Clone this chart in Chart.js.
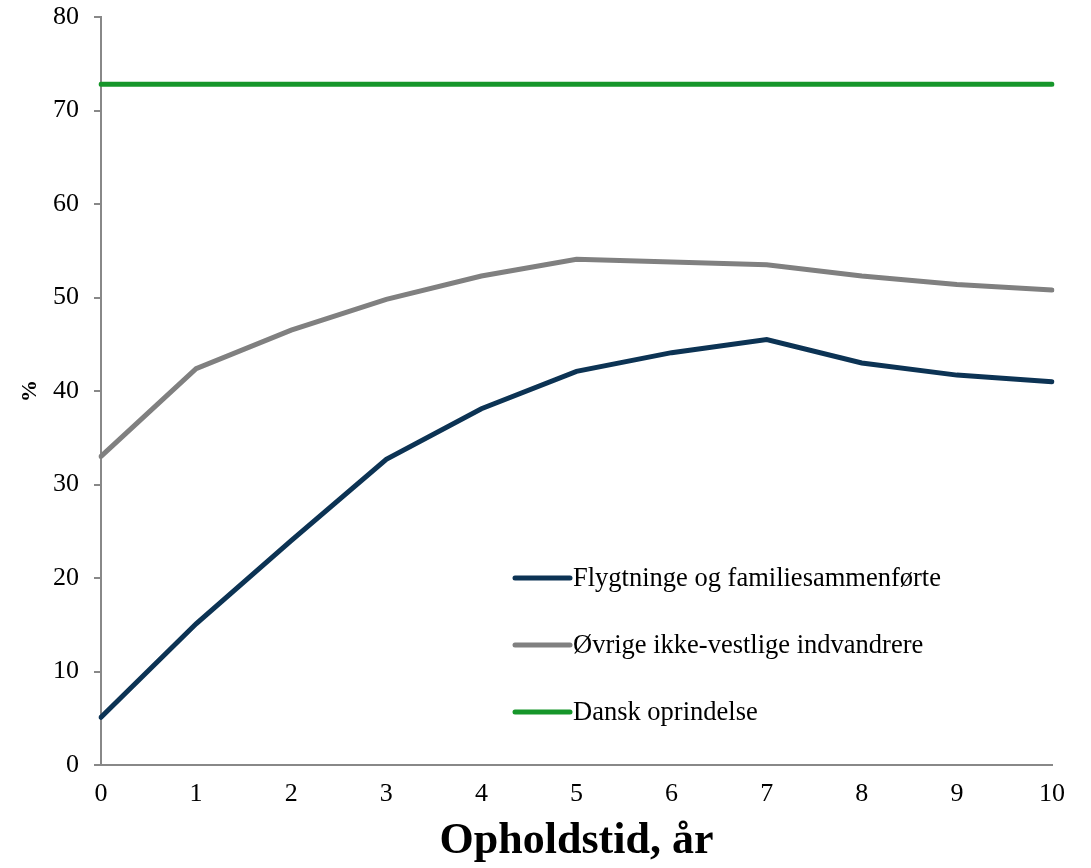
<!DOCTYPE html>
<html>
<head>
<meta charset="utf-8">
<script src="https://cdn.jsdelivr.net/npm/chart.js@4"></script>
<style>
  html, body { margin: 0; padding: 0; background: #fff; }
  #wrap { width: 1091px; height: 868px; }
</style>
</head>
<body>
<div id="wrap"><canvas id="chart" width="1091" height="868"></canvas></div>
<script>
// år i Danmark (x-akse)
const years = ['0', '1', '2', '3', '4', '5', '6', '7', '8', '9', '10'];

// andel i %
const flygtninge = [5.1, 15.1, 24.0, 32.7, 38.1, 42.1, 44.1, 45.5, 43.0, 41.7, 41.0];
const oevrige = [33.0, 42.4, 46.5, 49.8, 52.3, 54.1, 53.8, 53.5, 52.3, 51.4, 50.8];
const dansk = [72.8, 72.8, 72.8, 72.8, 72.8, 72.8, 72.8, 72.8, 72.8, 72.8, 72.8];

const seriesNames = ['Flygtninge og familiesammenførte', 'Øvrige ikke-vestlige indvandrere', 'Dansk oprindelse'];
const seriesColors = ['#0c3354', '#808080', '#16962a'];

const serif = "'Liberation Serif', 'Times New Roman', serif";

// legenden ligger inde i plotområdet, så den tegnes selv
const innerLegend = {
  id: 'innerLegend',
  afterDraw(chart) {
    const ctx = chart.ctx;
    const x0 = 515, x1 = 570;
    const rows = [578, 645, 712];
    ctx.save();
    ctx.font = '26.5px ' + serif;
    ctx.textBaseline = 'middle';
    ctx.lineCap = 'round';
    chart.data.datasets.forEach((ds, i) => {
      ctx.strokeStyle = ds.borderColor;
      ctx.lineWidth = 5;
      ctx.beginPath();
      ctx.moveTo(x0, rows[i]);
      ctx.lineTo(x1, rows[i]);
      ctx.stroke();
      ctx.fillStyle = '#000';
      ctx.fillText(ds.label, x1 + 3, rows[i] + 1);
    });
    ctx.restore();
  }
};

const ctx = document.getElementById('chart').getContext('2d');
new Chart(ctx, {
  type: 'line',
  data: {
    labels: years,
    datasets: [
      { label: seriesNames[0], data: flygtninge, borderColor: seriesColors[0] },
      { label: seriesNames[1], data: oevrige, borderColor: seriesColors[1] },
      { label: seriesNames[2], data: dansk, borderColor: seriesColors[2] }
    ].map(d => Object.assign(d, {
      borderWidth: 5,
      pointRadius: 0,
      tension: 0,
      fill: false,
      borderCapStyle: 'round'
    }))
  },
  options: {
    responsive: false,
    animation: false,
    layout: { padding: { top: 17, right: 39, bottom: 0, left: 0 } },
    plugins: {
      legend: { display: false },
      tooltip: { enabled: false }
    },
    scales: {
      x: {
        offset: false,
        grid: { display: false, drawTicks: false },
        border: { color: '#888', width: 2 },
        ticks: { color: '#000', font: { family: serif, size: 26 }, padding: 14, maxRotation: 0 },
        title: {
          display: true,
          text: 'Opholdstid, år',
          color: '#000',
          font: { family: serif, size: 44, weight: 'bold' },
          padding: { top: 0, bottom: 0 }
        },
        afterFit: s => {
          s.height = 103;
          s.paddingLeft = 0;
          s.paddingRight = 0;
        }
      },
      y: {
        min: 0,
        max: 80,
        ticks: { stepSize: 10, color: '#000', font: { family: serif, size: 26 }, padding: 15 },
        grid: { drawOnChartArea: false, drawTicks: true, tickLength: 7, color: '#888', lineWidth: 2 },
        border: { color: '#888', width: 2 },
        title: {
          display: true,
          text: '%',
          color: '#000',
          font: { family: serif, size: 22, weight: 'bold' },
          padding: { top: 17, bottom: 0 }
        },
        afterFit: s => {
          s.width = 101;
          s.paddingTop = 0;
          s.paddingBottom = 0;
        }
      }
    }
  },
  plugins: [innerLegend]
});
</script>
</body>
</html>
